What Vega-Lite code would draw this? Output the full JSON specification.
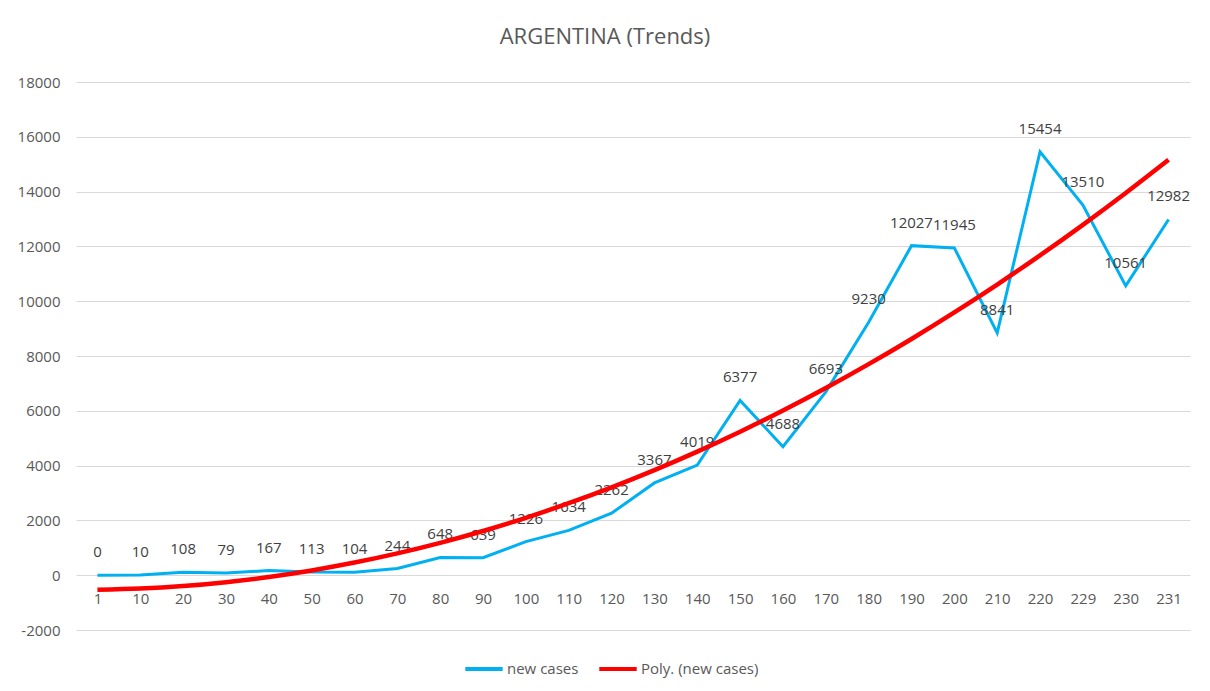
{
  "$schema": "https://vega.github.io/schema/vega-lite/v6.json",
  "width": 1114,
  "height": 548,
  "autosize": "none",
  "padding": {"left": 76, "top": 82, "right": 20, "bottom": 61},
  "background": "white",
  "title": {
    "text": "ARGENTINA (Trends)",
    "anchor": "middle",
    "frame": "group",
    "dx": -28,
    "offset": 26,
    "font": "Open Sans",
    "fontSize": 22,
    "fontWeight": "normal",
    "color": "#595959"
  },
  "data": {
    "values": [
      {"day": 1, "cases": 0, "trend": -533},
      {"day": 10, "cases": 10, "trend": -489},
      {"day": 20, "cases": 108, "trend": -397},
      {"day": 30, "cases": 79, "trend": -255},
      {"day": 40, "cases": 167, "trend": -65},
      {"day": 50, "cases": 113, "trend": 173},
      {"day": 60, "cases": 104, "trend": 461},
      {"day": 70, "cases": 244, "trend": 796},
      {"day": 80, "cases": 648, "trend": 1181},
      {"day": 90, "cases": 639, "trend": 1614},
      {"day": 100, "cases": 1226, "trend": 2096},
      {"day": 110, "cases": 1634, "trend": 2627},
      {"day": 120, "cases": 2262, "trend": 3206},
      {"day": 130, "cases": 3367, "trend": 3834},
      {"day": 140, "cases": 4019, "trend": 4510},
      {"day": 150, "cases": 6377, "trend": 5235},
      {"day": 160, "cases": 4688, "trend": 6009},
      {"day": 170, "cases": 6693, "trend": 6831},
      {"day": 180, "cases": 9230, "trend": 7702},
      {"day": 190, "cases": 12027, "trend": 8622},
      {"day": 200, "cases": 11945, "trend": 9591},
      {"day": 210, "cases": 8841, "trend": 10608},
      {"day": 220, "cases": 15454, "trend": 11673},
      {"day": 229, "cases": 13510, "trend": 12787},
      {"day": 230, "cases": 10561, "trend": 13950},
      {"day": 231, "cases": 12982, "trend": 15162}
    ]
  },
  "encoding": {
    "x": {
      "field": "day",
      "type": "ordinal",
      "scale": {"type": "point", "padding": 0.5},
      "axis": {
        "title": null,
        "labelAngle": 0,
        "domain": false,
        "ticks": false,
        "grid": false,
        "offset": -55,
        "labelPadding": 16,
        "labelFont": "Open Sans",
        "labelFontSize": 15,
        "labelColor": "#595959"
      }
    }
  },
  "layer": [
    {
      "mark": {"type": "line", "strokeWidth": 3, "interpolate": "linear"},
      "encoding": {
        "y": {
          "field": "cases",
          "type": "quantitative",
          "scale": {"domain": [-2000, 18000], "nice": false, "zero": false},
          "axis": {
            "title": null,
            "values": [-2000, 0, 2000, 4000, 6000, 8000, 10000, 12000, 14000, 16000, 18000],
            "labelExpr": "'' + datum.value",
            "domain": false,
            "ticks": false,
            "grid": true,
            "gridColor": "#d9d9d9",
            "gridWidth": 1,
            "labelPadding": 16,
            "labelFont": "Open Sans",
            "labelFontSize": 15,
            "labelColor": "#595959"
          }
        },
        "color": {"datum": "new cases", "type": "nominal"}
      }
    },
    {
      "mark": {
        "type": "text",
        "baseline": "middle",
        "align": "center",
        "dy": -23,
        "font": "Open Sans",
        "fontSize": 15,
        "color": "#404040"
      },
      "encoding": {
        "y": {"field": "cases", "type": "quantitative"},
        "text": {"field": "cases", "type": "quantitative", "format": "d"}
      }
    },
    {
      "mark": {"type": "line", "strokeWidth": 4.5, "interpolate": "monotone"},
      "encoding": {
        "y": {"field": "trend", "type": "quantitative"},
        "color": {"datum": "Poly. (new cases)", "type": "nominal"}
      }
    }
  ],
  "resolve": {"scale": {"y": "shared"}},
  "config": {
    "view": {"stroke": null},
    "range": {"category": ["#00B0F0", "#FF0000"]},
    "legend": {
      "orient": "none",
      "legendX": 387,
      "legendY": 566,
      "direction": "horizontal",
      "title": null,
      "symbolType": "stroke",
      "symbolStrokeWidth": 4,
      "symbolSize": 1400,
      "labelFont": "Open Sans",
      "labelFontSize": 15,
      "labelColor": "#595959",
      "labelOffset": 2,
      "columnPadding": 12,
      "labelLimit": 300
    }
  }
}
